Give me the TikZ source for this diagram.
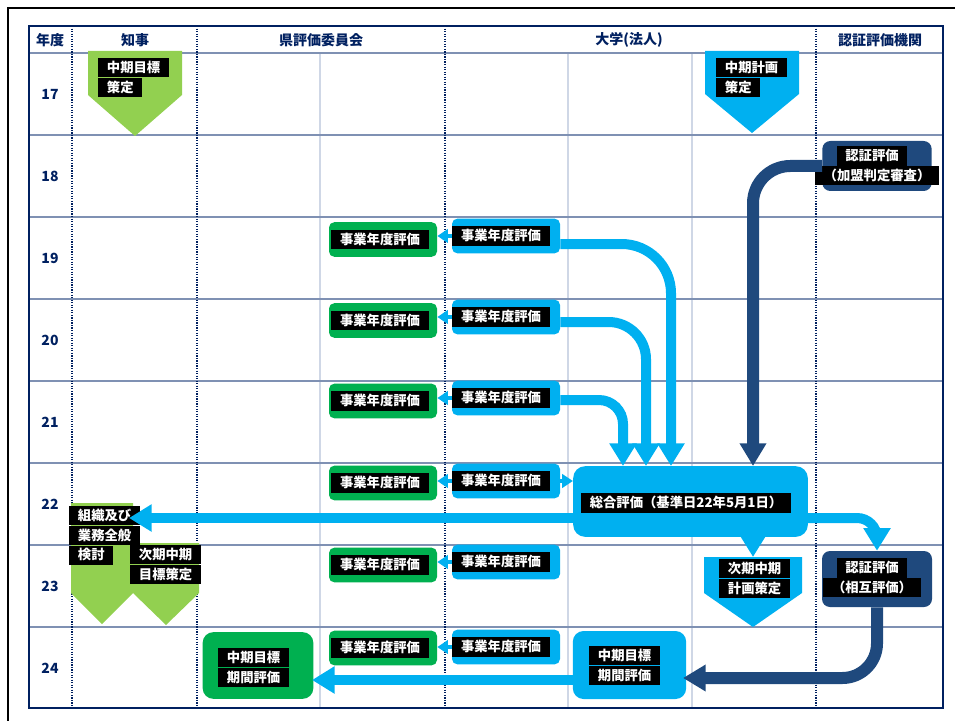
\documentclass[tikz,border=0pt]{standalone}
\usepackage{fontspec}
\setmainfont{Noto Sans CJK JP}
\usetikzlibrary{arrows.meta, positioning, calc}
\definecolor{navyc}{HTML}{002060}
\definecolor{rowc}{HTML}{7F91B3}
\definecolor{subc}{HTML}{CFD7E6}
\definecolor{lgrc}{HTML}{92D050}
\definecolor{grc}{HTML}{00B050}
\definecolor{cyc}{HTML}{00B0F0}
\definecolor{dbc}{HTML}{1F497D}
\newcommand{\pent}[7]{%
  \fill[#7] (#2,#4) -- (#3,#4) -- (#3,#5) -- ({(#2+#3)/2},#6) -- (#2,#5) -- cycle;
  \coordinate (#1) at ({(#2+#3)/2},#4);
}
\newcommand{\twoline}[4]{%
  \node[lbl, anchor=north west] (#1a) at #2 {#3};
  \node[lbl, anchor=north west] (#1b) at (#1a.south west) {#4};
}

\begin{document}
\begin{tikzpicture}[x=0.75pt, y=-0.75pt, >=Stealth,
    lbl/.style={fill=black, text=white, font=\bfseries\fontsize{10}{12}\selectfont,
      inner xsep=6.5pt, inner ysep=1.8pt, text height=8.8pt, text depth=2pt},
    hdr/.style={text=navyc, font=\bfseries\fontsize{10.5}{12}\selectfont},
    cbox/.style={fill=cyc, rounded corners=4pt, minimum width=81pt, minimum height=26pt},
    gbox/.style={fill=grc, rounded corners=4pt, minimum width=81pt, minimum height=26pt},
    carr/.style={cyc, line width=7.5pt, -{Triangle[length=17pt, width=19.5pt]}},
    darr/.style={dbc, line width=9pt, -{Triangle[length=17pt, width=19pt]}},
    sarr/.style={cyc, line width=3pt, -{Triangle[length=8pt, width=10pt]}}]
  \useasboundingbox (0,0) rectangle (955,720);
  \draw[line width=2.2pt] (8,730) -- (8,8) -- (965,8);
  \draw[subc, line width=1.5pt] foreach \x in {320,568,692} {(\x,53) -- (\x,708)};
  \draw[rowc, line width=1.2pt] foreach \y in {135,217,...,627} {(29,\y) -- (943,\y)};
  \draw[rowc, line width=1.6pt] (29,53) -- (943,53);
  \draw[navyc, line width=0.9pt, densely dotted] foreach \x in {72,197,445,816} {(\x,26) -- (\x,708)};
  \draw[navyc, line width=1.4pt] (29,26) rectangle (943,708);

  \node[hdr] (hyear) at (50,40) {年度};
  \node[hdr] (hgov) at (135,40) {知事};
  \node[hdr] (hcom) at (321,40) {県評価委員会};
  \node[hdr] (huni) at (629,40) {大学(法人)};
  \node[hdr] (hcert) at (880,40) {認証評価機関};
  \foreach \yr [count=\i from 0] in {17,...,24}
    \node[hdr] (y\yr) at (50,{94+82*\i}) {\yr};

  \pent{gov17}{88}{182}{51}{95}{136}{lgrc}
  \pent{uni17}{705}{799}{51}{94}{133}{cyc}
  \pent{gov22}{71}{133}{503}{593}{624}{lgrc}
  \pent{gov23}{133}{199}{543}{593}{625}{lgrc}
  \pent{uni23}{704}{802}{557}{593}{627}{cyc}

  \node[fill=dbc, rounded corners=6pt, minimum width=82pt, minimum height=37.5pt] (cert18) at (877,166) {};
  \node[fill=dbc, rounded corners=6pt, minimum width=82.5pt, minimum height=42pt] (cert23) at (877,579) {};
  \node[fill=cyc, rounded corners=9pt, minimum width=176pt, minimum height=53pt] (sogo) at (690.5,501.5) {};
  \node[fill=cyc, rounded corners=8pt, minimum width=85pt, minimum height=51pt] (kikanU) at (629.5,665) {};
  \node[fill=grc, rounded corners=8pt, minimum width=83pt, minimum height=50pt] (kikanG) at (258,665.5) {};
  \foreach \r/\cy/\gy in {19/236/239.5, 20/317/320.5, 21/398/401, 22/481/483, 23/562/565, 24/647/648} {
    \node[cbox] (c\r) at (506,\cy) {};
    \node[gbox] (g\r) at (383,\gy) {};
    \node[lbl] (cl\r) at (501,\cy) {事業年度評価};
    \node[lbl] (gl\r) at (380,\gy) {事業年度評価};
    \draw[sarr] (c\r.west) -- (c\r.west -| g\r.east);
  }

  \twoline{kl}{(98,58)}{中期目標}{策定}
  \twoline{ul}{(716,58)}{中期計画}{策定}
  \twoline{sl}{(69,506)}{組織及び}{業務全般}
  \node[lbl, anchor=north west] (slc) at (slb.south west) {検討};
  \twoline{gl}{(130,545)}{次期中期}{目標策定}
  \twoline{nl}{(719,559)}{次期中期}{計画策定}
  \twoline{kul}{(589,646)}{中期目標}{期間評価}
  \twoline{kgl}{(218,648)}{中期目標}{期間評価}
  \node[lbl] (sogoL) at (686,503) {総合評価（基準日22年5月1日）};
  \node[lbl] (c18a) at (872,156) {認証評価};
  \node[lbl, below=0pt of c18a.south -| cert18, anchor=north] (c18b) {（加盟判定審査）};
  \node[lbl] (c23a) at (872,568) {認証評価};
  \node[lbl, below=0pt of c23a] (c23b) {（相互評価）};

  \coordinate (t19) at (671,466);
  \coordinate (t20) at (646,466);
  \coordinate (t21) at (623,466);
  \coordinate (td) at (753,466);
  \coordinate (tk) at (129,518);
  \coordinate (tu) at (683,678);
  \coordinate (tg) at (312,680);
  \draw[carr, rounded corners=37pt] ($(c19.east)+(0,8)$) -| (t19);
  \draw[carr, rounded corners=28pt] ($(c20.east)+(0,5)$) -| (t20);
  \draw[carr, rounded corners=18pt] ($(c21.east)+(0,2)$) -| (t21);
  \draw[sarr] (c22.east) -- (c22.east -| sogo.west);
  \draw[darr, rounded corners=28pt] (cert18.west) -| (td);
  \draw[carr] ($(sogo.west)+(0,16.5)$) -- (tk);
  \draw[carr, rounded corners=15pt] ($(sogo.east)+(0,16.5)$) -| (cert23.north);
  \draw[carr] (sogo.south -| uni23) -- (uni23);
  \draw[darr, rounded corners=26pt] (cert23.south) |- (tu);
  \draw[carr] ($(kikanU.west)+(0,15)$) -- (tg);
\end{tikzpicture}
\end{document}
